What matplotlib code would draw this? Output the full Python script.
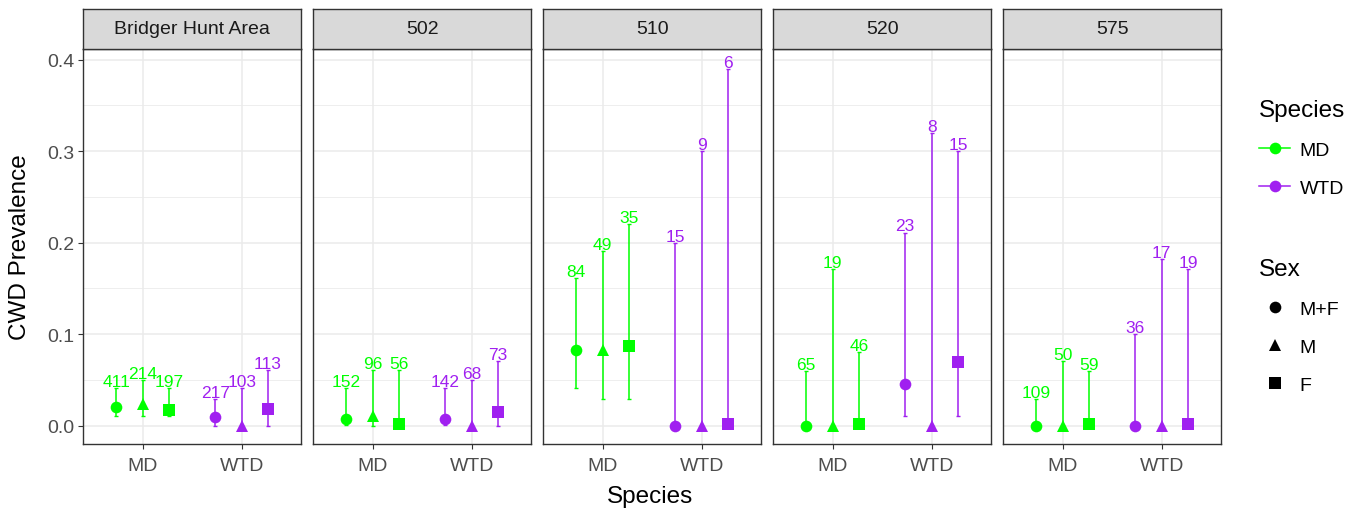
import matplotlib
matplotlib.use("Agg")
import matplotlib.pyplot as plt
from matplotlib.lines import Line2D
import numpy as np

plt.rcParams['font.family'] = ['Liberation Sans', 'DejaVu Sans']

# data: [area][species][sex]
areas = ['Bridger Hunt Area', '502', '510', '520', '575']
species = ['MD', 'WTD']
sexes = ['M+F', 'M', 'F']

prevalence = [
    [[0.020, 0.024, 0.017], [0.009, 0.000, 0.018]],
    [[0.007, 0.011, 0.002], [0.007, 0.000, 0.015]],
    [[0.083, 0.083, 0.087], [0.000, 0.000, 0.002]],
    [[0.000, 0.000, 0.002], [0.045, 0.000, 0.069]],
    [[0.000, 0.000, 0.002], [0.000, 0.000, 0.002]],
]
lower = [
    [[0.011, 0.011, 0.011], [0.000, 0.000, 0.000]],
    [[0.001, 0.000, 0.000], [0.001, 0.000, 0.000]],
    [[0.041, 0.029, 0.029], [0.000, 0.000, 0.000]],
    [[0.000, 0.000, 0.000], [0.011, 0.000, 0.011]],
    [[0.000, 0.000, 0.000], [0.000, 0.000, 0.000]],
]
upper = [
    [[0.041, 0.050, 0.041], [0.029, 0.041, 0.061]],
    [[0.041, 0.061, 0.061], [0.041, 0.050, 0.071]],
    [[0.161, 0.191, 0.220], [0.200, 0.300, 0.390]],
    [[0.060, 0.171, 0.080], [0.211, 0.320, 0.300]],
    [[0.029, 0.071, 0.060], [0.100, 0.182, 0.171]],
]
n_sampled = [
    [[411, 214, 197], [217, 103, 113]],
    [[152, 96, 56], [142, 68, 73]],
    [[84, 49, 35], [15, 9, 6]],
    [[65, 19, 46], [23, 8, 15]],
    [[109, 50, 59], [36, 17, 19]],
]

colors = {'MD': '#00FF00', 'WTD': '#A020F0'}
markers = {'M+F': 'o', 'M': '^', 'F': 's'}
msizes = {'M+F': 8.4, 'M': 9.0, 'F': 8.2}
dodge = [-0.8 / 3, 0.0, 0.8 / 3]

W, H = 1363, 510
fig = plt.figure(figsize=(W / 100, H / 100), dpi=100)

p_left0, p_step, p_w = 83.3, 230.0, 217.7
p_top, p_bot = 50.0, 444.5
s_top = 9.5
border = '#333333'

for i, area in enumerate(areas):
    x0 = p_left0 + i * p_step
    ax = fig.add_axes([x0 / W, 1 - p_bot / H, p_w / W, (p_bot - p_top) / H])
    ax.set_xlim(0.4, 2.6)
    ax.set_ylim(-0.0196, 0.4116)
    ax.set_yticks([0.0, 0.1, 0.2, 0.3, 0.4])
    ax.set_yticks([0.05, 0.15, 0.25, 0.35], minor=True)
    ax.set_xticks([1, 2])
    ax.set_xticklabels(species)
    ax.grid(which='major', color='#EBEBEB', linewidth=1.1, zorder=0)
    ax.grid(which='minor', axis='y', color='#EBEBEB', linewidth=0.6, zorder=0)
    ax.set_axisbelow(True)
    for sp in ax.spines.values():
        sp.set_color(border)
        sp.set_linewidth(1.0)
    ax.tick_params(which='major', length=3.5, width=0.8, color=border,
                   labelsize=14, labelcolor='#4D4D4D', pad=3)
    ax.tick_params(axis='x', which='major', pad=6)
    ax.tick_params(which='minor', length=0)
    if i == 0:
        ax.set_yticklabels(['0.0', '0.1', '0.2', '0.3', '0.4'])
    else:
        ax.tick_params(axis='y', which='major', length=0, labelleft=False)

    for j, sp_name in enumerate(species):
        c = colors[sp_name]
        for k, sx in enumerate(sexes):
            x = j + 1 + dodge[k]
            p = prevalence[i][j][k]
            lo = lower[i][j][k]
            up = upper[i][j][k]
            ax.errorbar([x], [p], yerr=[[p - lo], [up - p]], fmt='none',
                        ecolor=c, elinewidth=1.1, capsize=1.5, capthick=1.0,
                        zorder=3)
            ax.plot([x], [p], linestyle='none', marker=markers[sx],
                    markersize=msizes[sx], color=c, markeredgewidth=0,
                    zorder=4)
            ax.annotate(str(n_sampled[i][j][k]), (x, up), xytext=(0, 1.5),
                        textcoords='offset points', ha='center',
                        va='baseline', fontsize=12.5, color=c, zorder=5)

    # facet strip
    sax = fig.add_axes([x0 / W, 1 - p_top / H, p_w / W, (p_top - s_top) / H])
    sax.set_facecolor('#D9D9D9')
    sax.set_xticks([])
    sax.set_yticks([])
    for sp in sax.spines.values():
        sp.set_color(border)
        sp.set_linewidth(1.0)
    sax.text(0.5, 0.5, area, ha='center', va='center', fontsize=14,
             color='#1A1A1A', transform=sax.transAxes)

fig.text(20 / W, 1 - ((p_top + p_bot) / 2) / H, 'CWD Prevalence',
         rotation=90, ha='center', va='center', fontsize=17.5)
fig.text(650 / W, 1 - 497 / H, 'Species', ha='center', va='center',
         fontsize=17.5)

# legends
sp_handles = [Line2D([], [], color=colors[s], marker='o', markersize=8.4,
                     markeredgewidth=0, linewidth=1.1) for s in species]
leg1 = fig.legend(sp_handles, species, title='Species', loc='upper left',
                  bbox_to_anchor=(1259 / W, 1 - 100 / H), frameon=False,
                  fontsize=14, title_fontsize=17.5, handlelength=1.6,
                  handletextpad=0.5, labelspacing=1.05, borderpad=0,
                  borderaxespad=0, alignment='left')
sx_handles = [Line2D([], [], color='black', marker=markers[s],
                     markersize=msizes[s], markeredgewidth=0, linestyle='none')
              for s in sexes]
leg2 = fig.legend(sx_handles, sexes, title='Sex', loc='upper left',
                  bbox_to_anchor=(1259 / W, 1 - 259 / H), frameon=False,
                  fontsize=14, title_fontsize=17.5, handlelength=1.6,
                  handletextpad=0.5, labelspacing=1.05, borderpad=0,
                  borderaxespad=0, alignment='left')

fig.savefig('out.png', dpi=100)
